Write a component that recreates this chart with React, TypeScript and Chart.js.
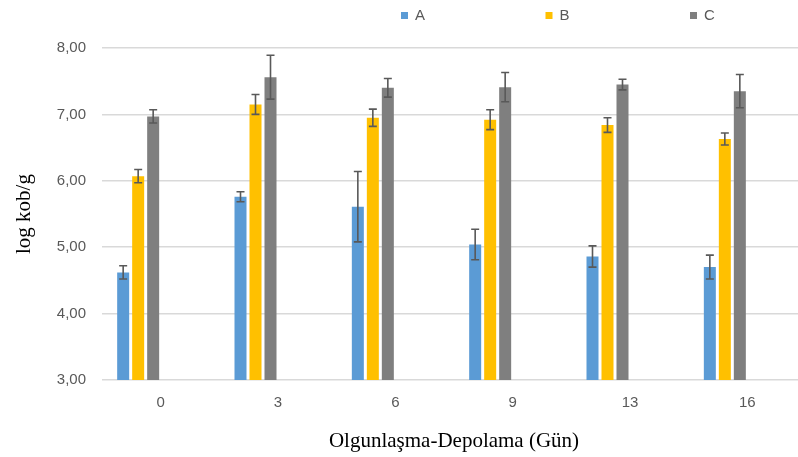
import React, { useEffect, useRef } from "react";
import { Chart, registerables } from "chart.js";

Chart.register(...registerables);

const categories = ["0", "3", "6", "9", "13", "16"];
const seriesNames = ["A", "B", "C"];
const valuesA = [4.62, 5.76, 5.61, 5.04, 4.86, 4.70];
const valuesB = [6.07, 7.15, 6.95, 6.92, 6.84, 6.63];
const valuesC = [6.97, 7.56, 7.40, 7.41, 7.45, 7.35];
const errA = [0.10, 0.075, 0.53, 0.23, 0.16, 0.18];
const errB = [0.10, 0.15, 0.13, 0.15, 0.11, 0.09];
const errC = [0.10, 0.33, 0.14, 0.22, 0.08, 0.25];
const colors = ["#5B9BD5", "#FFC000", "#7F7F7F"];
const yTicks = [3, 4, 5, 6, 7, 8];

const values = [valuesA, valuesB, valuesC];
const errors = [errA, errB, errC];

const errorBarPlugin = {
  id: "errorBars",
  afterDatasetsDraw(chart: any) {
    const ctx = chart.ctx;
    const yScale = chart.scales.y;
    ctx.save();
    ctx.strokeStyle = "#595959";
    ctx.lineWidth = 1.6;
    for (let d = 0; d < errors.length; d++) {
      const meta = chart.getDatasetMeta(d);
      meta.data.forEach((bar: any, i: number) => {
        const v = values[d][i];
        const e = errors[d][i];
        const x = bar.x;
        const yTop = yScale.getPixelForValue(v + e);
        const yBot = yScale.getPixelForValue(v - e);
        const cap = 4;
        ctx.beginPath();
        ctx.moveTo(x, yTop);
        ctx.lineTo(x, yBot);
        ctx.moveTo(x - cap, yTop);
        ctx.lineTo(x + cap, yTop);
        ctx.moveTo(x - cap, yBot);
        ctx.lineTo(x + cap, yBot);
        ctx.stroke();
      });
    }
    ctx.restore();
  },
};

const legendPlugin = {
  id: "customLegend",
  afterDraw(chart: any) {
    const ctx = chart.ctx;
    ctx.save();
    const startX = 401;
    const step = 144.5;
    ctx.font = "15px 'Liberation Sans', Arial, sans-serif";
    ctx.textBaseline = "middle";
    ctx.textAlign = "left";
    seriesNames.forEach((name, i) => {
      const x = startX + i * step;
      ctx.fillStyle = colors[i];
      ctx.fillRect(x, 12, 7, 7);
      ctx.fillStyle = "#595959";
      ctx.fillText(name, x + 14, 16);
    });
    ctx.restore();
  },
};

export default function App() {
  const canvasRef = useRef<HTMLCanvasElement>(null);

  useEffect(() => {
    if (!canvasRef.current) return;
    const datasets: any[] = values.map((vals, i) => ({
      label: seriesNames[i],
      data: vals,
      backgroundColor: colors[i],
      borderWidth: 0,
      barPercentage: 0.8,
      categoryPercentage: 0.767,
    }));
    for (let k = 0; k < 3; k++) {
      datasets.push({
        label: "",
        data: categories.map(() => null),
        backgroundColor: "rgba(0,0,0,0)",
        barPercentage: 0.8,
        categoryPercentage: 0.767,
      });
    }
    const chart = new Chart(canvasRef.current, {
      type: "bar",
      data: { labels: categories, datasets },
      plugins: [errorBarPlugin, legendPlugin],
      options: {
        animation: false,
        responsive: true,
        maintainAspectRatio: false,
        layout: { padding: { top: 48, right: 6, bottom: 0, left: 0 } },
        plugins: {
          legend: { display: false },
          tooltip: { enabled: false },
          title: { display: false },
        },
        scales: {
          x: {
            grid: { display: false, drawTicks: false },
            border: { display: false },
            ticks: {
              padding: 14,
              color: "#595959",
              font: { family: "'Liberation Sans', Arial, sans-serif", size: 15 },
            },
            title: {
              display: true,
              text: "Olgunlaşma-Depolama (Gün)",
              color: "#000000",
              font: { family: "'Liberation Serif', 'Times New Roman', serif", size: 21 },
              padding: { top: 0, bottom: 3 },
            },
            afterFit(scale: any) {
              scale.height = 77;
            },
          },
          y: {
            min: 3,
            max: 8,
            afterBuildTicks(scale: any) {
              scale.ticks = yTicks.map((v) => ({ value: v }));
            },
            grid: { color: "#D9D9D9", lineWidth: 1.5, drawTicks: false },
            border: { display: false },
            ticks: {
              padding: 16,
              color: "#595959",
              font: { family: "'Liberation Sans', Arial, sans-serif", size: 15 },
              callback: (v: any) => Number(v).toFixed(2).replace(".", ","),
            },
            title: {
              display: true,
              text: "log kob/g",
              color: "#000000",
              font: { family: "'Liberation Serif', 'Times New Roman', serif", size: 21 },
              padding: { top: 12, bottom: 0 },
            },
            afterFit(scale: any) {
              scale.width = 102;
            },
          },
        },
      },
    });
    return () => chart.destroy();
  }, []);

  return (
    <div
      style={{
        position: "fixed",
        left: 0,
        top: 0,
        width: 798,
        height: 457,
        overflow: "hidden",
        background: "#ffffff",
      }}
    >
      <div style={{ position: "relative", width: 812, height: 457 }}>
        <canvas ref={canvasRef} />
      </div>
    </div>
  );
}
